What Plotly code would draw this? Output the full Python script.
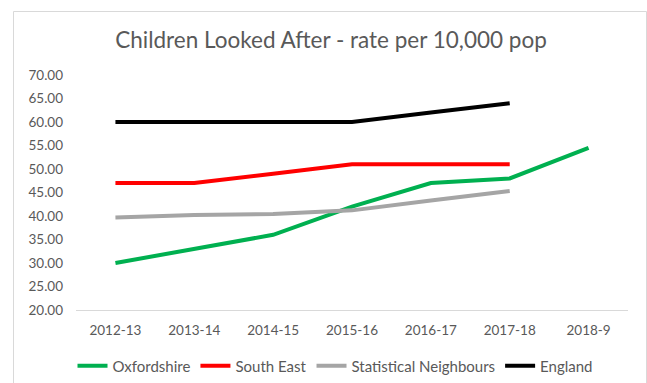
import plotly.graph_objects as go

categories = ["2012-13", "2013-14", "2014-15", "2015-16", "2016-17", "2017-18", "2018-9"]
oxfordshire = [30.0, 33.0, 36.0, 42.0, 47.0, 48.0, 54.5]
south_east = [47.0, 47.0, 49.0, 51.0, 51.0, 51.0, None]
stat_neighbours = [39.7, 40.2, 40.4, 41.2, 43.3, 45.3, None]
england = [60.0, 60.0, 60.0, 60.0, 62.0, 64.0, None]

series = [
    ("Oxfordshire", oxfordshire, "#00B050"),
    ("South East", south_east, "#FF0000"),
    ("Statistical Neighbours", stat_neighbours, "#A5A5A5"),
    ("England", england, "#000000"),
]

W, H = 647, 383
L, R, T, B = 76, 628, 75, 310
pw, ph = R - L, B - T

fig = go.Figure()
for name, vals, col in series:
    fig.add_trace(go.Scatter(x=categories, y=vals, name=name, mode="lines",
                             line=dict(color=col, width=4), connectgaps=False))

font = "Lato, 'Open Sans', sans-serif"
txt = "#595959"

fig.update_layout(
    width=W, height=H,
    margin=dict(l=L, r=W - R, t=T, b=H - B, pad=0, autoexpand=False),
    paper_bgcolor="white", plot_bgcolor="white",
    font=dict(family=font, color=txt, size=13.5),
    title=dict(text="Children Looked After - rate per 10,000 pop",
               x=(331 - L) / pw, xref="paper", xanchor="center",
               y=1 - 40 / H, yref="container", yanchor="middle",
               font=dict(size=22.5, color=txt, family=font)),
    xaxis=dict(type="category", showgrid=False, showline=True, linecolor="#D9D9D9",
               linewidth=1, ticks="", zeroline=False, tickfont=dict(size=13.5, color=txt),
               range=[-0.5, 6.5], fixedrange=True, ticklabelstandoff=8, automargin=False),
    yaxis=dict(range=[20, 70], dtick=5, tickformat=".2f", showgrid=False, showline=False,
               zeroline=False, ticks="", tickfont=dict(size=13.5, color=txt),
               ticklabelstandoff=12, automargin=False),
    legend=dict(orientation="h", x=(335 - L) / pw, xanchor="center",
                yref="container", y=1 - 366 / H, yanchor="middle",
                font=dict(size=15, color=txt),
                bgcolor="rgba(0,0,0,0)", traceorder="normal"),
    showlegend=True,
)

fig.add_shape(type="rect", xref="paper", yref="paper",
              x0=(13.5 - L) / pw, x1=(646.5 - L) / pw,
              y0=(B - 420) / ph, y1=(B - 11.5) / ph,
              line=dict(color="#D9D9D9", width=1), fillcolor="rgba(0,0,0,0)", layer="below")

fig.write_html("out.html")
